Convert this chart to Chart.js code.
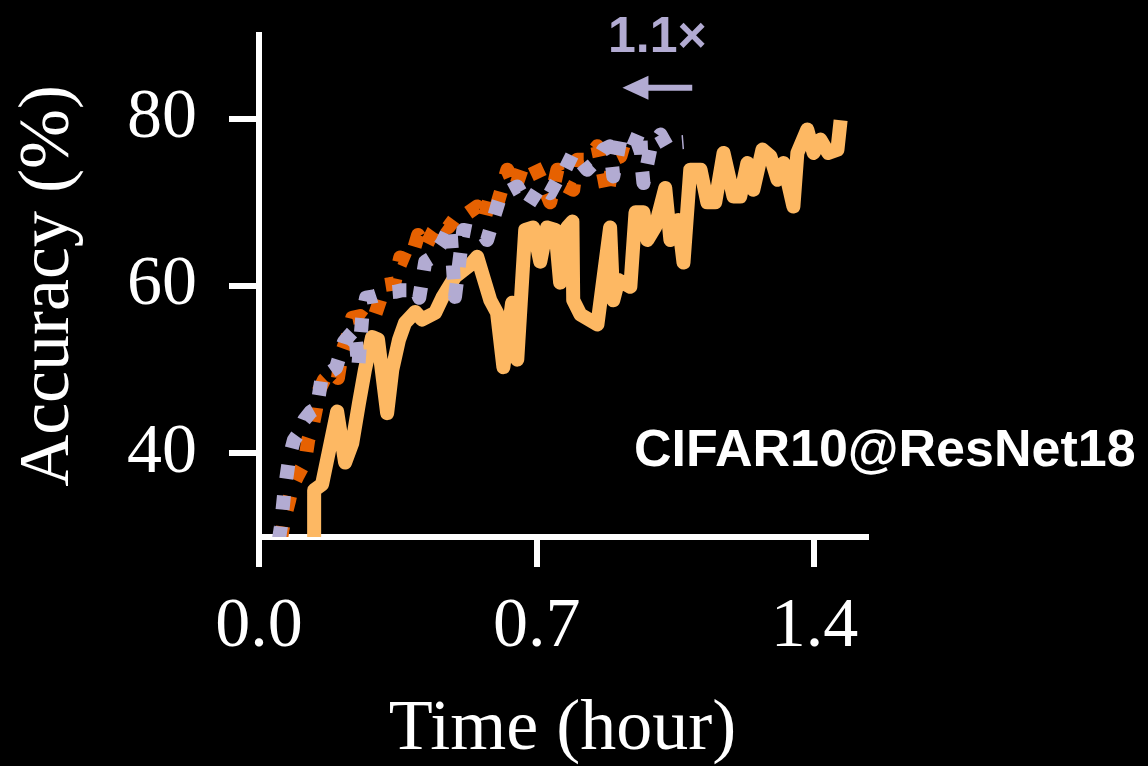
<!DOCTYPE html>
<html>
<head>
<meta charset="utf-8">
<script src="https://cdn.jsdelivr.net/npm/chart.js@4.4.0/dist/chart.umd.min.js"></script>
<style>
  html, body { margin: 0; padding: 0; background: #000; }
  canvas { display: block; }
</style>
</head>
<body>
<canvas id="grafico" width="1148" height="766"></canvas>
<script>
// curva contínua (mais lenta)
const solidHours = [0.139, 0.139, 0.159, 0.197, 0.217, 0.235, 0.252, 0.267, 0.285, 0.300,
  0.323, 0.336, 0.353, 0.368, 0.394, 0.411, 0.444, 0.462, 0.494, 0.532,
  0.550, 0.583, 0.600, 0.616, 0.638, 0.651, 0.671, 0.691, 0.709, 0.726,
  0.747, 0.759, 0.777, 0.790, 0.792, 0.810, 0.853, 0.885, 0.893, 0.906,
  0.936, 0.949, 0.969, 0.979, 0.999, 1.024, 1.037, 1.057, 1.070, 1.087,
  1.113, 1.130, 1.150, 1.171, 1.196, 1.213, 1.231, 1.246, 1.269, 1.289,
  1.307, 1.322, 1.347, 1.357, 1.382, 1.398, 1.415, 1.435, 1.458, 1.466];
const solidAcc = [29.0, 35.6, 36.3, 45.0, 38.9, 41.2, 46.0, 50.0, 53.9, 53.6,
  44.8, 50.0, 53.6, 55.6, 56.9, 56.0, 56.8, 58.6, 61.1, 62.5,
  63.5, 58.3, 56.8, 50.3, 58.0, 51.2, 66.7, 67.0, 62.9, 67.0,
  66.7, 60.4, 67.0, 67.7, 58.3, 56.6, 55.4, 67.0, 58.3, 60.7,
  59.9, 68.8, 68.8, 65.5, 67.1, 71.7, 65.5, 67.9, 62.8, 73.9,
  73.9, 70.0, 70.0, 75.9, 70.7, 70.7, 74.7, 71.5, 76.3, 75.5,
  72.7, 74.7, 69.5, 75.9, 78.7, 75.9, 77.5, 75.9, 76.3, 79.8];

// curva pontilhada laranja
const orangeHours = [0.055, 0.063, 0.076, 0.083, 0.098, 0.116, 0.124, 0.134, 0.144, 0.149,
  0.164, 0.184, 0.199, 0.209, 0.225, 0.235, 0.255, 0.275, 0.290, 0.305,
  0.315, 0.341, 0.356, 0.381, 0.401, 0.419, 0.439, 0.457, 0.477, 0.497,
  0.520, 0.550, 0.568, 0.583, 0.600, 0.626, 0.646, 0.663, 0.691, 0.709,
  0.734, 0.752, 0.767, 0.792, 0.802, 0.827, 0.853, 0.870, 0.878, 0.893,
  0.911, 0.923, 0.936];
const orangeAcc = [29.6, 32.0, 34.4, 35.9, 37.4, 39.0, 41.6, 43.0, 45.4, 47.3,
  48.8, 49.7, 49.0, 52.1, 54.2, 56.2, 56.4, 55.7, 56.2, 58.3,
  60.1, 60.3, 63.4, 62.9, 66.1, 64.6, 66.5, 67.7, 67.0, 68.3,
  68.5, 69.5, 67.9, 70.8, 69.7, 73.9, 71.7, 74.1, 74.7, 72.9,
  70.0, 73.9, 72.1, 71.5, 75.1, 75.1, 76.7, 72.9, 70.9, 75.1,
  75.5, 77.5, 77.7];

// curva pontilhada lilás
const purpleHours = [0.050, 0.055, 0.063, 0.076, 0.088, 0.103, 0.114, 0.131, 0.146, 0.159,
  0.179, 0.194, 0.214, 0.230, 0.242, 0.250, 0.260, 0.270, 0.293, 0.318,
  0.343, 0.361, 0.381, 0.394, 0.404, 0.419, 0.436, 0.462, 0.482, 0.494,
  0.515, 0.537, 0.558, 0.575, 0.590, 0.608, 0.628, 0.651, 0.663, 0.679,
  0.709, 0.734, 0.752, 0.767, 0.792, 0.810, 0.827, 0.853, 0.868, 0.885,
  0.893, 0.911, 0.931, 0.943, 0.961, 0.964, 0.969, 0.986, 1.012, 1.029,
  1.044, 1.070];
const purpleAcc = [29.6, 31.2, 35.0, 39.4, 41.6, 42.6, 44.0, 45.0, 45.4, 49.4,
  49.7, 50.2, 53.3, 54.2, 54.8, 50.2, 56.2, 58.6, 58.8, 59.2,
  59.3, 59.5, 59.5, 59.8, 58.6, 62.9, 63.4, 65.2, 67.2, 58.7,
  66.7, 66.5, 66.7, 65.5, 67.9, 70.7, 71.3, 71.9, 70.9, 69.7,
  71.9, 71.1, 72.7, 73.5, 75.9, 74.9, 73.9, 75.1, 76.3, 76.7,
  73.1, 77.5, 76.5, 76.7, 78.7, 74.7, 72.3, 76.3, 78.1, 76.7,
  77.1, 77.2];

const xTicks = [0, 0.7, 1.4];
const yTicks = [40, 60, 80];

const speedupLabel = '1.1×';
const datasetLabel = 'CIFAR10@ResNet18';

const serif = '"Liberation Serif", "Times New Roman", serif';
const sans = '"Liberation Sans", Arial, sans-serif';
const lilas = '#b2abd2';

function pontos(xs, ys) {
  const n = Math.min(xs.length, ys.length);
  const out = [];
  for (let i = 0; i < n; i++) out.push({ x: xs[i], y: ys[i] });
  return out;
}

function linha(data, cor, tracejado) {
  return {
    data: data,
    borderColor: cor,
    borderWidth: 14,
    borderDash: tracejado ? [14, 17] : [],
    borderCapStyle: 'butt',
    borderJoinStyle: 'round',
    pointRadius: 0,
    fill: false,
    tension: 0,
    clip: 0
  };
}

// fundo preto, rótulo do experimento e a seta de aceleração
const anotacoes = {
  id: 'anotacoes',
  beforeDraw(chart) {
    const c = chart.ctx;
    c.save();
    c.fillStyle = '#000';
    c.fillRect(0, 0, chart.width, chart.height);
    c.restore();
  },
  afterDraw(chart) {
    const c = chart.ctx;
    const sx = chart.scales.x;
    const sy = chart.scales.y;
    c.save();
    c.fillStyle = '#fff';
    c.font = 'bold 52px ' + sans;
    c.textAlign = 'left';
    c.textBaseline = 'alphabetic';
    c.fillText(datasetLabel, 634, 466);

    const y = sy.getPixelForValue(83.7);
    const xIni = sx.getPixelForValue(1.092);
    const xFim = sx.getPixelForValue(0.916);
    c.strokeStyle = lilas;
    c.fillStyle = lilas;
    c.lineWidth = 6;
    c.beginPath();
    c.moveTo(xIni, y);
    c.lineTo(xFim + 20, y);
    c.stroke();
    c.beginPath();
    c.moveTo(xFim, y);
    c.lineTo(xFim + 26, y - 12);
    c.lineTo(xFim + 26, y + 12);
    c.closePath();
    c.fill();

    c.font = 'bold 50px ' + sans;
    c.textAlign = 'center';
    c.fillText(speedupLabel, (xIni + xFim) / 2, 52);
    c.restore();
  }
};

const eixo = {
  border: { display: true, color: '#fff', width: 6 },
  grid: { drawOnChartArea: false, drawTicks: true, tickLength: 30, tickWidth: 6, tickColor: '#fff', color: '#fff', lineWidth: 6 }
};

const ctx = document.getElementById('grafico').getContext('2d');

const grafico = new Chart(ctx, {
  type: 'line',
  data: {
    datasets: [
      linha(pontos(purpleHours, purpleAcc), lilas, true),
      linha(pontos(orangeHours, orangeAcc), '#e66101', true),
      linha(pontos(solidHours, solidAcc), '#fdb863', false)
    ]
  },
  options: {
    responsive: false,
    animation: false,
    devicePixelRatio: 1,
    layout: { padding: { top: 35, right: 282, left: 0, bottom: 0 } },
    plugins: {
      legend: { display: false },
      tooltip: { enabled: false }
    },
    scales: {
      x: {
        type: 'linear',
        min: 0,
        max: 1.53,
        z: 1,
        border: eixo.border,
        grid: eixo.grid,
        afterBuildTicks: s => { s.ticks = xTicks.map(v => ({ value: v })); },
        afterFit: s => { s.height = 229; s.paddingLeft = 0; s.paddingRight = 0; },
        ticks: {
          color: '#fff',
          autoSkip: false,
          maxRotation: 0,
          padding: 26,
          font: { family: serif, size: 70, lineHeight: 1 },
          callback: v => v.toFixed(1)
        },
        title: {
          display: true,
          text: 'Time (hour)',
          color: '#fff',
          padding: 0,
          font: { family: serif, size: 72, lineHeight: 1 }
        }
      },
      y: {
        min: 30,
        max: 90,
        z: 1,
        border: eixo.border,
        grid: eixo.grid,
        afterBuildTicks: s => { s.ticks = yTicks.map(v => ({ value: v })); },
        afterFit: s => { s.width = 259; s.paddingTop = 0; s.paddingBottom = 0; },
        ticks: {
          color: '#fff',
          autoSkip: false,
          padding: 32,
          font: { family: serif, size: 70, lineHeight: 1 },
          callback: v => String(v)
        },
        title: {
          display: true,
          text: 'Accuracy (%)',
          color: '#fff',
          padding: { top: 13, bottom: 0 },
          font: { family: serif, size: 72, lineHeight: 1 }
        }
      }
    }
  },
  plugins: [anotacoes]
});
</script>
</body>
</html>
